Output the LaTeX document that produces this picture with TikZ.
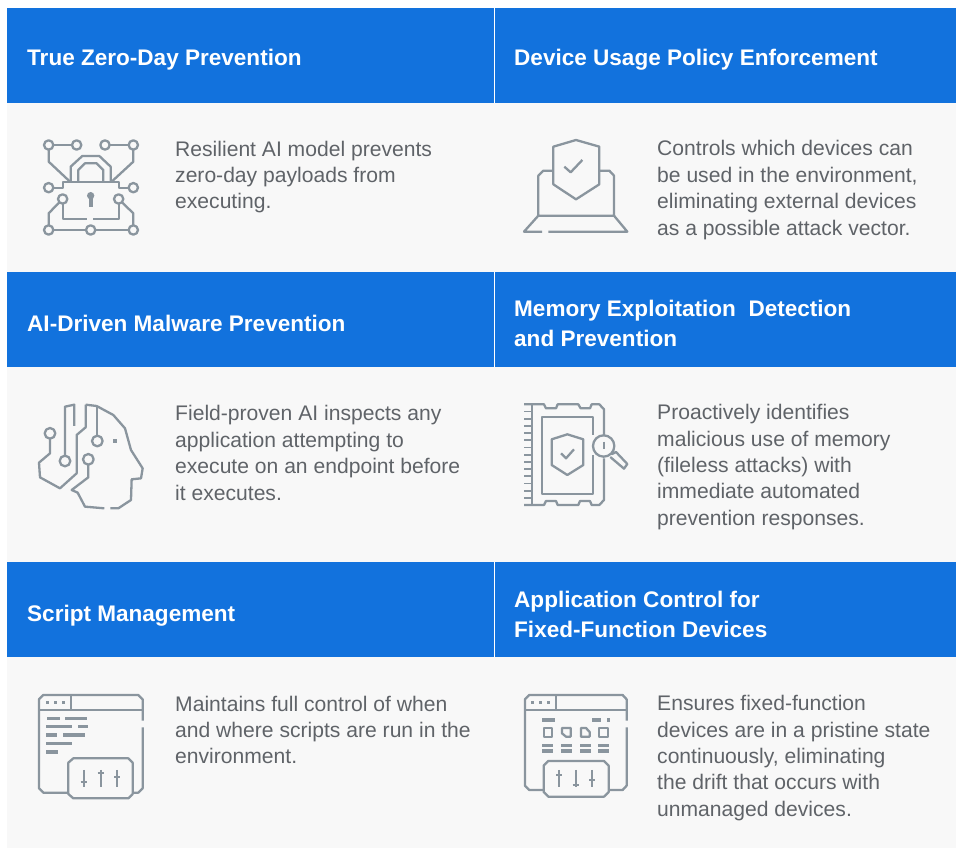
\documentclass[tikz,border=0pt]{standalone}
\usepackage{fontspec}
\setmainfont{Liberation Sans}
\definecolor{hblue}{HTML}{1272DD}
\definecolor{panel}{HTML}{F8F8F8}
\definecolor{body}{HTML}{5F6368}
\definecolor{ico}{HTML}{8A959E}
\tikzset{
  x=1pt,y=-1pt,
  head/.style={fill=hblue,draw=none},
  title/.style={anchor=west,inner sep=0pt,text=white,align=left,font=\fontsize{22.55}{30}\selectfont\bfseries},
  para/.style={anchor=west,inner sep=0pt,text=body,align=left,font=\fontsize{21.1}{26.45}\selectfont},
  ln/.style={draw=ico,line width=2.3pt,line join=round,fill=none},
  thin/.style={draw=ico,line width=1.9pt,line join=round,fill=none},
}
\begin{document}
\begin{tikzpicture}
\useasboundingbox (0,0) rectangle (956,848);
\fill[white] (0,0) rectangle (956,848);
\fill[panel] (7,8) rectangle (956,848);
\foreach \y in {8,272,562}{
  \fill[head] (7,\y) rectangle (956,\y+95);
  \draw[white,line width=1pt] (494.5,\y) -- (494.5,\y+95);
}
% titles
\node[title] (t1) at (27,59.5) {True Zero-Day Prevention};
\node[title] (t2) at (514,59.5) {Device Usage Policy Enforcement};
\node[title] (t3) at (27,323) {AI-Driven Malware Prevention};
\node[title] (t4) at (514,323) {Memory Exploitation\ \ Detection\\and Prevention};
\node[title] (t5) at (27,616) {Script Management};
\node[title] (t6) at (514,614) {Application Control for\\Fixed-Function Devices};
% paragraphs
\node[para] (p1) at (175,177) {Resilient AI model prevents\\zero-day payloads from\\executing.};
\node[para] (p2) at (657,190) {Controls which devices can\\be used in the environment,\\eliminating external devices\\as a possible attack vector.};
\node[para] (p3) at (175,453) {Field-proven AI inspects any\\application attempting to\\execute on an endpoint before\\it executes.};
\node[para] (p4) at (657,467) {Proactively identifies\\malicious use of memory\\(fileless attacks) with\\immediate automated\\prevention responses.};
\node[para] (p5) at (175,730) {Maintains full control of when\\and where scripts are run in the\\environment.};
\node[para] (p6) at (657,758) {Ensures fixed-function\\devices are in a pristine state\\continuously, eliminating\\the drift that occurs with\\unmanaged devices.};

% icon 1
\begin{scope}[shift={(20,120)},x=0.3333pt,y=-0.3333pt]
\foreach \a/\b in {86/75,170/75,255/75,340/75,86/203,340/203,128/237,296/237,86/330,212/330,340/330}
  \draw[ln] (\a,\b) circle[radius=14];
\draw[ln] (100,75)--(156,75);
\draw[ln] (269,75)--(326,75);
\draw[ln] (152,183)--(152,140)--(187,108)--(238,108)--(272,140)--(272,183);
\draw[ln] (175,183)--(175,150)--(195,130)--(230,130)--(250,150)--(250,183);
\draw[ln] (100,203)--(130,203)--(130,185)--(296,185)--(296,203)--(326,203);
\draw[ln] (86,89)--(86,125)--(150,185);
\draw[ln] (340,89)--(340,125)--(275,185);
\draw[ln] (128,251)--(128,296)--(202,296);
\draw[ln] (220,296)--(296,296)--(296,251);
\draw[ln] (118,247)--(86,280)--(86,316);
\draw[ln] (306,247)--(340,280)--(340,316);
\draw[ln] (100,330)--(198,330);
\draw[ln] (226,330)--(326,330);
\fill[ico] (212,227) circle[radius=11];
\fill[ico] (206,230) rectangle (218,262);
\end{scope}

% icon 2
\begin{scope}[shift={(510,125)},x=0.3333pt,y=-0.3333pt]
\draw[ln] (198,45)--(268,65)--(268,178)--(198,223)--(130,178)--(130,65)--cycle;
\draw[ln] (163,125)--(182,142)--(217,105);
\draw[ln] (128,137)--(100,137)--(85,152)--(85,272)--(312,272)--(312,152)--(298,137)--(268,137);
\draw[ln] (85,272)--(42,320)--(96,320);
\draw[ln] (115,320)--(352,320)--(312,272);
\end{scope}

% icon 3
\begin{scope}[shift={(25,390)},x=0.3333pt,y=-0.3333pt]
\draw[ln] (148,108)--(148,44)--(120,50)--(120,198);
\draw[ln] (120,213) circle[radius=16];
\draw[ln] (182,44)--(182,112)--(155,135)--(155,250)--(105,295)--(45,262)--(42,218)--(75,190)--(75,146);
\draw[ln] (75,130) circle[radius=16];
\draw[ln] (182,44)--(215,48)--(265,75)--(300,115)--(318,180)--(353,235)--(348,265)--(320,268)--(318,330)--(280,355)--(256,355);
\draw[ln] (238,355)--(180,350)--(158,308)--(140,300)--(190,262)--(190,224);
\draw[ln] (190,208) circle[radius=16];
\draw[ln] (217,48)--(217,137);
\draw[ln] (217,153) circle[radius=16];
\fill[ico] (263,148) rectangle (275,160);
\end{scope}

% icon 4
\begin{scope}[shift={(510,390)},x=0.3333pt,y=-0.3333pt]
\draw[ln] (65,43)--(65,345);
\draw[ln] (42,43)--(102,43)--(108,55)--(138,55)--(143,43)--(205,43)--(212,55)--(240,55)--(245,43)--(268,43)--(282,58)--(282,135);
\draw[ln] (282,205)--(282,330)--(268,345)--(245,345)--(240,333)--(210,333)--(205,345)--(143,345)--(138,333)--(108,333)--(102,345)--(42,345);
\foreach \k in {0,...,14}
  \draw[thin] (42,{43+\k*21.6})--(65,{43+\k*21.6});
\draw[ln] (250,135)--(250,80)--(95,80)--(95,312)--(250,312)--(250,195);
\draw[ln] (172,133)--(220,148)--(220,225)--(172,255)--(125,225)--(125,148)--cycle;
\draw[ln] (153,190)--(168,205)--(192,178);
\draw[ln] (281,168) circle[radius=32];
\draw[thin] (281,155)--(281,178);
\draw[ln,line cap=round] (306,192)--(318,186)--(352,222)--(342,236)--(302,202);
\end{scope}

% icon 5
\begin{scope}[shift={(25,680)},x=0.3333pt,y=-0.3333pt]
\draw[ln] (130,338)--(55,338)--(42,325)--(42,58)--(55,45)--(340,45)--(353,58)--(353,122);
\draw[ln] (353,142)--(353,325)--(340,338)--(323,338);
\draw[ln] (42,90)--(353,90);
\draw[ln] (137,45)--(137,90);
\foreach \a in {68,92,116} \fill[ico] (\a-5,63) rectangle (\a+5,73);
\foreach \a/\b/\c in {65/105/115,120/185/115,63/140/140,160/190/140,63/95/165,115/180/165,63/140/190,63/100/216}
  \fill[ico] (\a,\c-5) rectangle (\b,\c+5);
\draw[ln] (145,235)--(310,235)--(323,248)--(323,342)--(310,355)--(145,355)--(130,342)--(130,248)--cycle;
\foreach \a/\b in {176/305,227/278,277/292}{
  \draw[thin] (\a,270)--(\a,322);
  \draw[thin] (\a-9,\b)--(\a+9,\b);
}
\end{scope}

% icon 6
\begin{scope}[shift={(510,680)},x=0.3333pt,y=-0.3333pt]
\draw[ln] (100,330)--(58,330)--(45,317)--(45,58)--(58,45)--(338,45)--(350,58)--(350,122);
\draw[ln] (350,142)--(350,317)--(338,330)--(296,330);
\draw[ln] (45,90)--(350,90);
\draw[ln] (138,45)--(138,90);
\foreach \a in {68,92,116} \fill[ico] (\a-5,63) rectangle (\a+5,73);
\foreach \a/\b/\c in {97/135/120,247/272/120,292/299/120,97/130/197,153/187/197,210/243/197,265/297/197,97/130/213,153/187/213,210/243/213,265/297/213}
  \fill[ico] (\a,\c-5) rectangle (\b,\c+5);
\draw[ln] (101,144) rectangle (127,170);
\draw[ln] (156,144)--(182,144)--(182,170)--(168,170)--(156,160)--cycle;
\draw[ln] (213,144)--(228,144)--(239,156)--(239,170)--(213,170)--cycle;
\draw[ln] (268,144) rectangle (294,170);
\draw[ln] (115,243)--(282,243)--(296,257)--(296,336)--(282,350)--(115,350)--(101,336)--(101,257)--cycle;
\foreach \a/\b in {147/285,197/315,247/300}{
  \draw[thin] (\a,270)--(\a,322);
  \draw[thin] (\a-9,\b)--(\a+9,\b);
}
\end{scope}
\end{tikzpicture}
\end{document}
